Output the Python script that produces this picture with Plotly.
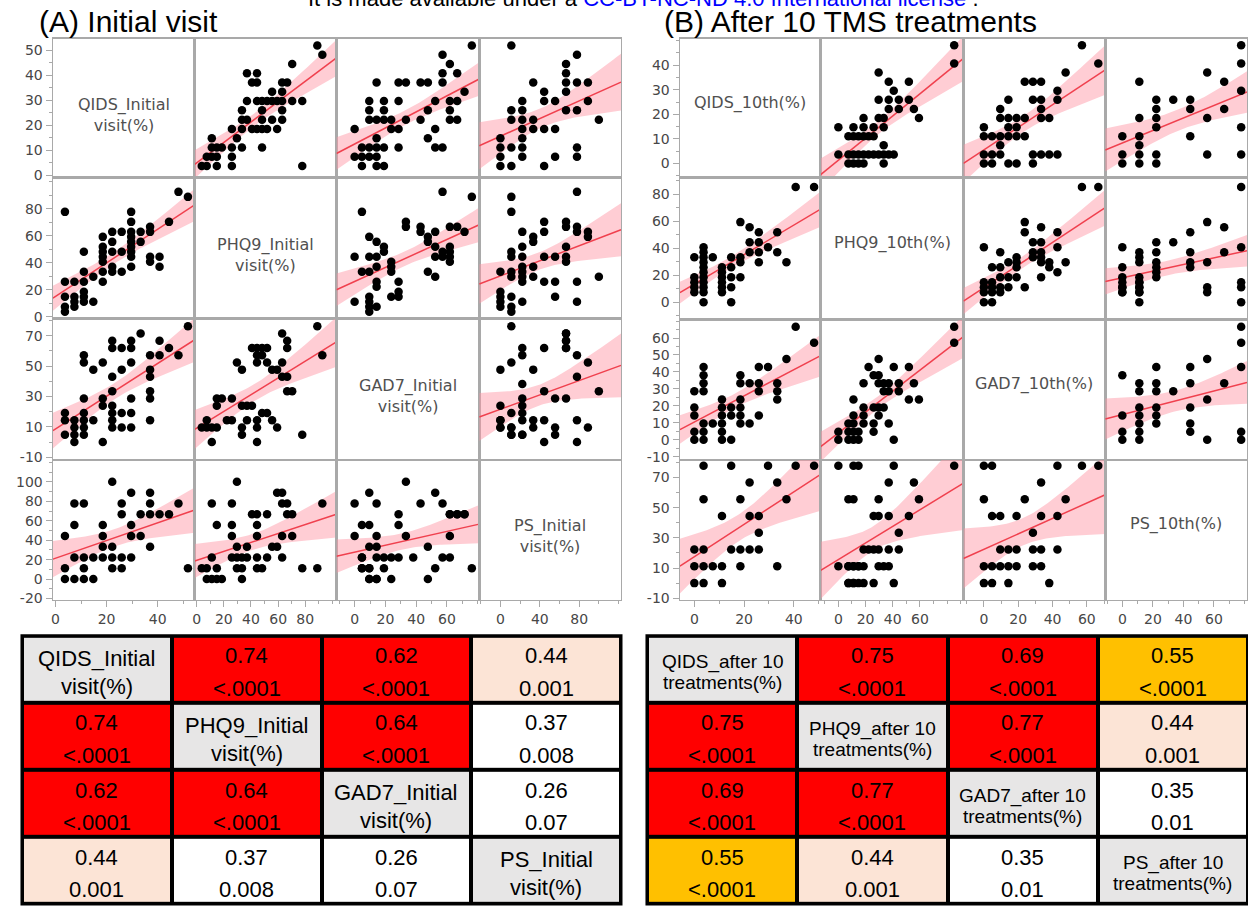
import numpy as np
import plotly.graph_objects as go

W, H = 1248, 911

# ---------------- data ----------------
# maximum raw score of each scale: QIDS, PHQ9, GAD7, PS  (values are plotted as % of maximum)
SCALE_MAX = [27, 27, 21, 9]

DIAG_A = ["QIDS_Initial<br>visit(%)", "PHQ9_Initial<br>visit(%)",
          "GAD7_Initial<br>visit(%)", "PS_Initial<br>visit(%)"]
DIAG_B = ["QIDS_10th(%)", "PHQ9_10th(%)", "GAD7_10th(%)", "PS_10th(%)"]

# raw-score pairs (first variable, second variable) read from the scatter cells
# (a few pairs appear twice: overlapping subjects hidden under one dot)
# ---- (A) initial visit ----
A_QIDS_PHQ9 = [(1,21),(1,7),(1,4),(1,2),(1,1),(2,7),(2,4),(2,3),(2,2),
               (3,13),(3,9),(3,7),(3,5),(3,4),(3,3),(4,8),(4,3),
               (5,16),(5,14),(5,13),(5,12),(5,11),(5,9),(5,7),
               (6,17),(6,15),(6,13),(6,10),(6,9),(7,17),(7,13),(7,9),
               (8,21),(8,19),(8,17),(8,16),(8,15),(8,14),(8,13),(8,12),(8,10),
               (9,15),(9,17),(10,18),(10,17),(10,12),(10,11),(11,12),(11,10),
               (12,19),(13,25),(14,24)]
A_QIDS_GAD7 = [(1,4),(1,3),(1,1),(2,3),(2,2),(2,1),(2,0),
               (3,12),(3,11),(3,6),(3,4),(3,3),(3,2),(3,1),(4,10),(4,3),
               (5,11),(5,6),(5,5),(5,0),
               (6,14),(6,13),(6,9),(6,7),(6,5),(6,4),(6,3),(6,2),
               (7,13),(7,10),(7,4),(7,2),(8,14),(8,13),(8,11),(8,6),(8,4),(8,2),
               (9,15),(10,12),(10,10),(10,9),(10,7),(10,6),(10,3),
               (11,14),(11,12),(12,13),(13,12),(14,16)]
A_QIDS_PS = [(1,4),(1,1),(1,0),(2,7),(2,5),(2,2),(2,0),(3,7),(3,2),(3,1),(3,0),
             (4,2),(4,0),(5,5),(5,4),(5,3),(5,2),(6,9),(6,3),(6,2),(6,1),
             (7,7),(7,6),(7,2),(7,1),(8,8),(8,5),(8,4),(8,2),(9,6),(9,4),
             (10,8),(10,7),(10,6),(10,3),(11,6),(12,6),(13,7),(14,1)]
A_PHQ9_GAD7 = [(1,2),(2,2),(3,2),(4,2),(2,3),(3,0),(4,5),(4,6),(5,6),(7,6),(6,3),(7,3),
               (8,11),(9,10),(9,5),(10,5),(11,5),(9,2),(9,1),(10,3),
               (11,13),(12,13),(13,13),(14,13),(12,12),(13,12),(12,11),(14,11),
               (12,3),(12,2),(12,0),(13,4),(14,4),(15,3),(16,2),(15,10),(16,10),
               (17,15),(18,14),(18,13),(17,11),(17,9),(18,7),(19,7),(18,9),
               (21,1),(24,16),(25,12)]
A_PHQ9_PS = [(1,1),(2,1),(3,7),(2,0),(3,0),(4,0),(5,0),(3,2),(4,5),(4,1),
             (7,7),(7,5),(7,4),(7,2),(8,9),(8,3),(8,2),(8,1),(9,2),(9,1),(9,0),(10,3),(10,2),
             (11,6),(12,6),(12,5),(12,4),(12,2),(12,1),(13,1),(14,6),(14,2),(15,3),(16,3),
             (16,8),(17,8),(17,7),(18,7),(17,4),(17,2),(18,6),(19,6),(19,4),(21,1),(24,1),(25,7)]
A_GAD7_PS = [(16,1),(10,0),(13,2),(12,2),(13,4),(15,6),(14,6),(13,6),(12,7),(11,8),(11,1),
             (10,3),(8,2),(9,7),(7,9),(7,4),(6,5),(6,6),(5,0),(4,1),(6,2),(5,2),(4,2),(3,2),
             (3,0),(2,0),(2,1),(1,1),(1,2),(3,3),(2,3),(3,4),(0,4),(2,5),(1,5),(3,7),(0,7),(2,8),
             (2,0),(1,1),(3,0),(2,1),(1,2),(15,6),(13,6),(14,6)]

# ---- (B) after 10 TMS treatments ----
B_QIDS_PHQ9 = [(0,9),(0,5),(0,4),(0,3),(0,2),
               (1,11),(1,10),(1,9),(1,8),(1,7),(1,6),(1,5),(1,4),(1,3),(1,2),(1,0),
               (2,9),(3,7),(3,6),(3,5),(3,4),(3,3),(3,2),(4,9),(4,7),(4,5),(4,3),(4,0),
               (5,16),(5,9),(5,8),(5,5),(6,15),(6,12),(6,10),(7,14),(7,12),(7,10),(7,8),
               (8,11),(9,14),(9,10),(10,8),(11,23),(13,23)]
B_QIDS_GAD7 = [(0,6),(0,4),(0,3),(0,1),(0,0),(1,9),(1,8),(1,7),(1,6),(1,2),(1,1),(1,0),
               (2,2),(3,5),(3,4),(3,3),(3,2),(3,1),(3,0),(4,4),(4,3),(4,0),
               (5,8),(5,7),(5,5),(5,4),(5,3),(5,2),(6,7),(6,2),(7,9),(7,7),(7,6),(7,3),
               (8,9),(9,7),(9,6),(9,5),(10,10),(11,14),(13,12)]
B_QIDS_PS = [(0,2),(0,1),(0,0),(1,7),(1,5),(1,2),(1,1),(1,0),(2,1),(3,4),(3,1),(3,0),
             (4,7),(4,2),(5,5),(5,2),(5,1),(6,6),(6,4),(6,2),(7,4),(7,3),(7,2),
             (8,7),(9,6),(9,1),(10,5),(11,7),(13,7)]
B_PHQ9_GAD7 = [(0,1),(0,0),(2,2),(2,1),(2,0),(3,0),(3,3),(3,2),(3,1),(4,1),(4,0),
               (5,4),(5,3),(5,2),(3,5),(5,7),(6,9),(7,8),(7,4),(7,2),(7,1),
               (8,10),(8,8),(8,7),(8,4),(8,3),(9,7),(9,6),(9,4),(10,7),(10,6),(10,2),
               (11,0),(11,9),(12,7),(12,6),(14,9),(15,7),(14,5),(16,5),(23,14),(23,12)]
B_PHQ9_PS = [(0,7),(3,7),(4,7),(11,7),(23,7),(10,6),(15,6),(2,5),(3,5),(8,5),(16,5),
             (7,4),(8,4),(10,4),(14,4),(12,3),(5,2),(6,2),(7,2),(8,2),(10,2),(12,2),
             (0,1),(2,1),(3,1),(4,1),(5,1),(8,1),(9,1),(10,1),
             (2,0),(3,0),(4,0),(5,0),(7,0),(11,0),
             (2,0),(3,0),(3,1),(4,1),(2,1)]
B_GAD7_PS = [(0,7),(0,5),(0,1),(0,0),(1,7),(1,4),(1,1),(1,0),(2,4),(2,2),(2,1),
             (3,2),(3,1),(3,0),(4,4),(4,2),(4,1),(5,5),(6,3),(6,2),(6,1),
             (7,6),(7,4),(7,2),(7,1),(8,0),(9,7),(9,4),(9,2),(10,5),(12,7),(14,7)]

PAIRS_A = {(0,1): A_QIDS_PHQ9, (0,2): A_QIDS_GAD7, (0,3): A_QIDS_PS,
           (1,2): A_PHQ9_GAD7, (1,3): A_PHQ9_PS, (2,3): A_GAD7_PS}
PAIRS_B = {(0,1): B_QIDS_PHQ9, (0,2): B_QIDS_GAD7, (0,3): B_QIDS_PS,
           (1,2): B_PHQ9_GAD7, (1,3): B_PHQ9_PS, (2,3): B_GAD7_PS}

# axis ranges (same for a variable as row and as column), ticks
RANGE_A = [(-1.0, 54.5), (-1.5, 103.0), (-11.8, 81.0), (-21.5, 122.5)]
RANGE_B = [(-5.8, 50.8), (-13.0, 92.0), (-11.9, 70.7), (-11.2, 81.6)]
YTICK_A = [[0,10,20,30,40,50], [0,20,40,60,80], [-10,10,30,50,70], [-20,0,20,40,60,80,100]]
YMINOR_A = [5, 10, 10, 10]
XTICK_A = [[0,20,40], [0,20,40,60,80], [0,20,40,60], [0,40,80]]
XMINOR_A = [10, 10, 10, 20]
YTICK_B = [[0,10,20,30,40], [0,20,40,60,80], [-10,0,10,20,30,40,50,60], [-10,10,30,50,70]]
YMINOR_B = [5, 10, 5, 10]
XTICK_B = [[0,20,40], [0,20,40,60], [0,20,40,60], [0,20,40,60]]
XMINOR_B = [10, 10, 10, 10]

# correlation tables
R_A = [[None,0.74,0.62,0.44],[0.74,None,0.64,0.37],[0.62,0.64,None,0.26],[0.44,0.37,0.26,None]]
P_A = [[None,"<.0001","<.0001","0.001"],["<.0001",None,"<.0001","0.008"],
       ["<.0001","<.0001",None,"0.07"],["0.001","0.008","0.07",None]]
R_B = [[None,0.75,0.69,0.55],[0.75,None,0.77,0.44],[0.69,0.77,None,0.35],[0.55,0.44,0.35,None]]
P_B = [[None,"<.0001","<.0001","<.0001"],["<.0001",None,"<.0001","0.001"],
       ["<.0001","<.0001",None,"0.01"],["<.0001","0.001","0.01",None]]
TDIAG_A = [("QIDS_Initial","visit(%)"),("PHQ9_Initial","visit(%)"),
           ("GAD7_Initial","visit(%)"),("PS_Initial","visit(%)")]
TDIAG_B = [("QIDS_after 10","treatments(%)"),("PHQ9_after 10","treatments(%)"),
           ("GAD7_after 10","treatments(%)"),("PS_after 10","treatments(%)")]

# ---------------- geometry / style ----------------
A_XB = [51, 193, 335, 478, 620]
A_YB = [39, 179, 321, 463, 604]
B_XB = [679, 820, 963, 1105, 1247]
B_YB = [39, 179, 322, 463, 604]
TA_X = [20, 620]
TB_X = [646, 1248]
T_Y = [640, 910]

GRAY_LINE = "#a9a9a9"
TICK_FONT = dict(family="DejaVu Sans", size=14, color="#474747")
BAND = "rgba(255,150,165,0.48)"
REDLINE = "#f0404e"

traces, annotations, shapes = [], [], []
layout = dict(width=W, height=H, margin=dict(l=0, r=0, t=0, b=0), autosize=False,
              paper_bgcolor="white", plot_bgcolor="rgba(0,0,0,0)", showlegend=False,
              font=dict(family="Liberation Sans"))


def pct(score, v):
    return score / SCALE_MAX[v] * 100.0


def fit_band(x, y, x0, x1):
    x = np.asarray(x, float)
    y = np.asarray(y, float)
    n = len(x)
    b1, b0 = np.polyfit(x, y, 1)
    resid = y - (b0 + b1 * x)
    s = np.sqrt(np.sum(resid ** 2) / (n - 2))
    xm = x.mean()
    sxx = np.sum((x - xm) ** 2)
    xs = np.linspace(x0, x1, 80)
    yh = b0 + b1 * xs
    se = s * np.sqrt(1.0 / n + (xs - xm) ** 2 / sxx)
    t = 2.01
    return xs, yh, yh - t * se, yh + t * se


def names(idx):
    s = "" if idx == 1 else str(idx)
    return "xaxis" + s, "yaxis" + s, "x" + s, "y" + s


def add_matrix(p, pairs, ranges, xb, yb, ytick, yminor, xtick, xminor, diag, diag_y, diag_size):
    for r in range(4):
        for c in range(4):
            idx = p * 16 + r * 4 + c + 1
            xn, yn, xr, yr = names(idx)
            xa = dict(domain=[xb[c] / W, xb[c + 1] / W], range=list(ranges[c]), anchor=yr,
                      showgrid=False, zeroline=False, showline=True, mirror=True,
                      linecolor=GRAY_LINE, linewidth=1.4, fixedrange=True,
                      showticklabels=False, ticks="")
            ya = dict(domain=[1 - yb[r + 1] / H, 1 - yb[r] / H], range=list(ranges[r]), anchor=xr,
                      showgrid=False, zeroline=False, showline=True, mirror=True,
                      linecolor=GRAY_LINE, linewidth=1.4, fixedrange=True,
                      showticklabels=False, ticks="")
            if r == 3:
                xa.update(ticks="outside", ticklen=6, tickwidth=1, tickcolor=GRAY_LINE,
                          tickmode="array", tickvals=xtick[c], ticktext=[str(v) for v in xtick[c]],
                          showticklabels=True, tickfont=TICK_FONT,
                          minor=dict(ticks="outside", ticklen=3, tickwidth=1, tickcolor=GRAY_LINE,
                                     dtick=xminor[c], tick0=0, showgrid=False))
            if c == 0:
                ya.update(ticks="outside", ticklen=6, tickwidth=1, tickcolor=GRAY_LINE,
                          tickmode="array", tickvals=ytick[r], ticktext=[str(v) for v in ytick[r]],
                          showticklabels=True, tickfont=TICK_FONT,
                          minor=dict(ticks="outside", ticklen=3, tickwidth=1, tickcolor=GRAY_LINE,
                                     dtick=yminor[r], tick0=0, showgrid=False))
            layout[xn] = xa
            layout[yn] = ya
            if r == c:
                # empty trace so that the diagonal cell (frame + label) is created
                traces.append(go.Scatter(x=[], y=[], mode="markers", hoverinfo="skip",
                                         xaxis=xr, yaxis=yr))
                annotations.append(dict(text=diag[r], xref=xr + " domain", yref=yr + " domain",
                                        x=0.5, y=diag_y, showarrow=False,
                                        font=dict(family="DejaVu Sans", size=diag_size, color="#505050")))
                continue
            i, j = min(r, c), max(r, c)
            pts = pairs[(i, j)]
            a = [pct(u, i) for u, _ in pts]
            b = [pct(v, j) for _, v in pts]
            if c == i:
                xs_, ys_ = a, b
            else:
                xs_, ys_ = b, a
            x0, x1 = ranges[c]
            gx, gy, lo, hi = fit_band(xs_, ys_, x0, x1)
            traces.append(go.Scatter(x=np.concatenate([gx, gx[::-1]]), y=np.concatenate([hi, lo[::-1]]),
                                     fill="toself", fillcolor=BAND, line=dict(width=0), mode="lines",
                                     hoverinfo="skip", xaxis=xr, yaxis=yr))
            traces.append(go.Scatter(x=gx, y=gy, mode="lines", line=dict(color=REDLINE, width=1.5),
                                     hoverinfo="skip", xaxis=xr, yaxis=yr))
            traces.append(go.Scatter(x=xs_, y=ys_, mode="markers",
                                     marker=dict(size=8.5, color="black", line=dict(width=0)),
                                     hoverinfo="skip", xaxis=xr, yaxis=yr))


add_matrix(0, PAIRS_A, RANGE_A, A_XB, A_YB, YTICK_A, YMINOR_A, XTICK_A, XMINOR_A, DIAG_A, 0.455, 16)
add_matrix(1, PAIRS_B, RANGE_B, B_XB, B_YB, YTICK_B, YMINOR_B, XTICK_B, XMINOR_B, DIAG_B, 0.54, 16)

# ---------------- tables ----------------
CELL_COLORS = ["#e7e6e6", "#ff0000", "#fce4d6", "#ffffff", "#ffc000"]


def code(r, c, R):
    if r == c:
        return 0
    v = R[r][c]
    if v >= 0.6:
        return 1
    if v >= 0.5:
        return 4
    if v >= 0.4:
        return 2
    return 3


def add_table(idx, R, P, tdiag, xr_px, dsize, d_off):
    xn, yn, xr, yr = names(idx)
    layout[xn] = dict(domain=[xr_px[0] / W, xr_px[1] / W], range=[-0.5, 3.5], visible=False,
                      anchor=yr, fixedrange=True)
    layout[yn] = dict(domain=[1 - T_Y[1] / H, 1 - T_Y[0] / H], range=[3.5, -0.5], visible=False,
                      anchor=xr, fixedrange=True)
    z = [[code(r, c, R) for c in range(4)] for r in range(4)]
    cs = []
    for k, col in enumerate(CELL_COLORS):
        cs.append([k / 5, col])
        cs.append([(k + 1) / 5, col])
    traces.append(go.Heatmap(z=z, x=[0, 1, 2, 3], y=[0, 1, 2, 3], zmin=0, zmax=4, colorscale=cs,
                             showscale=False, xgap=4, ygap=4, hoverinfo="skip", xaxis=xr, yaxis=yr))
    shapes.append(dict(type="rect", xref="paper", yref="paper", layer="below",
                       x0=(xr_px[0] - 1.5) / W, x1=min(xr_px[1] + 1.5, W) / W,
                       y0=1 - (T_Y[1] + 1.5) / H, y1=1 - (T_Y[0] - 1.5) / H,
                       fillcolor="black", line=dict(width=0)))
    for r in range(4):
        for c in range(4):
            if r == c:
                t1, t2 = tdiag[r]
                annotations.append(dict(text=t1, xref=xr, yref=yr, x=c, y=r - d_off[0], showarrow=False,
                                        font=dict(family="Liberation Sans", size=dsize, color="black")))
                annotations.append(dict(text=t2, xref=xr, yref=yr, x=c, y=r + d_off[1], showarrow=False,
                                        font=dict(family="Liberation Sans", size=dsize, color="black")))
            else:
                annotations.append(dict(text=f"{R[r][c]:.2f}", xref=xr, yref=yr, x=c, y=r - 0.20,
                                        showarrow=False,
                                        font=dict(family="Liberation Sans", size=22, color="black")))
                annotations.append(dict(text=P[r][c], xref=xr, yref=yr, x=c, y=r + 0.28,
                                        showarrow=False,
                                        font=dict(family="Liberation Sans", size=22, color="black")))


add_table(33, R_A, P_A, TDIAG_A, TA_X, 22, (0.16, 0.25))
add_table(34, R_B, P_B, TDIAG_B, TB_X, 19, (0.11, 0.20))

# ---------------- titles ----------------
annotations.append(dict(text="(A) Initial visit", xref="paper", yref="paper", x=35 / W, y=1 - 22 / H,
                        xanchor="left", yanchor="middle", showarrow=False,
                        font=dict(family="Liberation Sans", size=30, color="black")))
annotations.append(dict(text="(B) After 10 TMS treatments", xref="paper", yref="paper", x=661 / W,
                        y=1 - 22 / H, xanchor="left", yanchor="middle", showarrow=False,
                        font=dict(family="Liberation Sans", size=30, color="black")))
annotations.append(dict(text="It is made available under a <span style='color:#0000ff'>CC-BY-NC-ND 4.0 "
                             "International license</span> .",
                        xref="paper", yref="paper", x=304 / W, y=1 - 13 / H, xanchor="left",
                        yanchor="bottom", showarrow=False,
                        font=dict(family="Liberation Sans", size=22, color="black")))

layout["annotations"] = annotations
layout["shapes"] = shapes
fig = go.Figure(data=traces, layout=layout)
fig.write_html("out.html", config={"displayModeBar": False, "staticPlot": True},
               post_script="document.body.style.margin='0px';document.body.style.overflow='hidden';")
